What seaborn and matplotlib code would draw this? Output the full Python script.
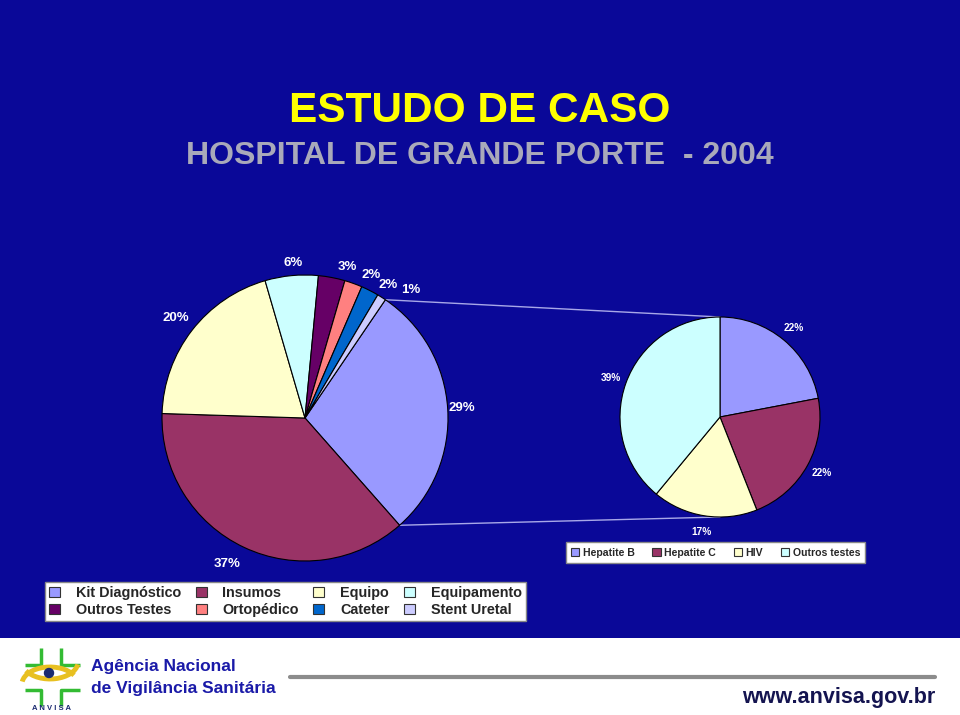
import numpy as np
import matplotlib
matplotlib.use("Agg")
import matplotlib.pyplot as plt
from matplotlib.patches import Rectangle, Arc, Circle
import seaborn as sns

# ---------------- data ----------------
main_labels = ["Kit Diagnóstico", "Insumos", "Equipo", "Equipamento",
               "Outros Testes", "Ortopédico", "Cateter", "Stent Uretal"]
main_values = [29, 37, 20, 6, 3, 2, 2, 1]
main_colors = ["#9999ff", "#993366", "#ffffcc", "#ccffff",
               "#660066", "#ff8080", "#0066cc", "#ccccff"]

sub_labels = ["Hepatite B", "Hepatite C", "HIV", "Outros testes"]
sub_values = [22, 22, 17, 39]
sub_colors = ["#9999ff", "#993366", "#ffffcc", "#ccffff"]

title = "ESTUDO DE CASO"
subtitle = "HOSPITAL DE GRANDE PORTE  - 2004"

# ---------------- style ----------------
sns.set_theme(style="white")
plt.rcParams["font.family"] = ["Liberation Sans", "DejaVu Sans"]

BG = "#0a0898"
W, H = 960, 715
fig = plt.figure(figsize=(W / 100, H / 100), dpi=100, facecolor=BG)
ax = fig.add_axes([0, 0, 1, 1])
ax.set_facecolor(BG)

def Y(y):  # pixel-from-top -> axis coords
    return H - y

# main pie
c1 = (305, Y(418)); r1 = 143
wedges1, _ = ax.pie(main_values, colors=sns.color_palette(main_colors),
                    startangle=55.8, counterclock=False, center=c1, radius=r1,
                    wedgeprops=dict(edgecolor="black", linewidth=0.8))
lab_dist = [1.10, 1.16, 1.14, 1.09, 1.10, 1.10, 1.10, 1.16]
lab_shift = [0, -3, 0, -1, -5, -5, -5, -7]
for w, v, d, s in zip(wedges1, main_values, lab_dist, lab_shift):
    a = np.deg2rad((w.theta1 + w.theta2) / 2 + s)
    ax.text(c1[0] + d * r1 * np.cos(a), c1[1] + d * r1 * np.sin(a), f"{v}%",
            ha="center", va="center", color="white", fontsize=9.5, fontweight="bold")

# secondary pie
c2 = (720, Y(417)); r2 = 100
wedges2, _ = ax.pie(sub_values, colors=sns.color_palette(sub_colors),
                    startangle=90, counterclock=False, center=c2, radius=r2,
                    wedgeprops=dict(edgecolor="black", linewidth=0.8))
for w, v in zip(wedges2, sub_values):
    a = np.deg2rad((w.theta1 + w.theta2) / 2)
    ax.text(c2[0] + 1.16 * r2 * np.cos(a), c2[1] + 1.16 * r2 * np.sin(a), f"{v}%",
            ha="center", va="center", color="white", fontsize=7.3, fontweight="bold")

# connector lines
kit = wedges1[0]
for ang, yy in [(kit.theta2, c2[1] + r2), (kit.theta1, c2[1] - r2)]:
    a = np.deg2rad(ang)
    ax.plot([c1[0] + r1 * np.cos(a), c2[0]], [c1[1] + r1 * np.sin(a), yy],
            color="#a8a8e8", lw=1.0, zorder=0.5)

ax.set_xlim(0, W); ax.set_ylim(0, H)
ax.set_aspect("equal")
ax.axis("off")

# titles
ax.text(480, Y(111), title, ha="center", va="center", color="#ffff00",
        fontsize=30.5, fontweight="bold")
ax.text(480, Y(156), subtitle, ha="center", va="center", color="#a9a9ba",
        fontsize=23, fontweight="bold")

# legends
def handles(cols):
    return [Rectangle((0, 0), 1, 1, facecolor=c, edgecolor="#333333", lw=0.8) for c in cols]

order = [0, 4, 1, 5, 2, 6, 3, 7]
leg1 = fig.legend([handles(main_colors)[i] for i in order], [main_labels[i] for i in order],
                  ncol=4, loc="center", bbox_to_anchor=(285.5 / W, 1 - 601.5 / H),
                  prop=dict(size=10.4, weight="bold"), frameon=True, fancybox=False,
                  facecolor="white", edgecolor="#888888", framealpha=1,
                  handlelength=0.75, handleheight=0.75, handletextpad=1.1,
                  columnspacing=1.0, labelspacing=0.2, borderpad=0.3)
leg2 = fig.legend(handles(sub_colors), sub_labels, ncol=4, loc="center",
                  bbox_to_anchor=(715.5 / W, 1 - 552.5 / H),
                  prop=dict(size=7.6, weight="bold"), frameon=True, fancybox=False,
                  facecolor="white", edgecolor="#888888", framealpha=1,
                  handlelength=0.8, handleheight=0.8, handletextpad=0.3,
                  columnspacing=1.7, borderpad=0.5)

# footer band
ax.add_patch(Rectangle((0, 0), W, Y(638), facecolor="white", edgecolor="none", zorder=5))
ax.plot([290, 935], [Y(677), Y(677)], color="#8c8c8c", lw=3, zorder=6)
green = "#33bb33"
for xs, ys in [([25, 41, 41], [665, 665, 648]), ([61, 61, 80], [648, 665, 665]),
               ([25, 41, 41], [690, 690, 706]), ([61, 61, 80], [706, 690, 690])]:
    ax.plot(xs, [Y(v) for v in ys], color=green, lw=2.5, zorder=6, solid_capstyle="butt")
ax.add_patch(Arc((50, Y(684)), 56, 34, theta1=20, theta2=175, color="#e8c020", lw=3.5, zorder=7))
ax.add_patch(Arc((50, Y(662)), 56, 34, theta1=200, theta2=355, color="#e8c020", lw=3.5, zorder=7))
ax.add_patch(Circle((49, Y(673)), 4.5, color="#1a2a70", zorder=8))
ax.text(51, Y(708), "A N V I S A", ha="center", va="center", fontsize=5.5,
        color="#1a2a70", fontweight="bold", zorder=8)
ax.text(91, Y(666), "Agência Nacional", ha="left", va="center", fontsize=12.5,
        fontweight="bold", color="#1a1aa8", zorder=8)
ax.text(91, Y(688), "de Vigilância Sanitária", ha="left", va="center", fontsize=12.5,
        fontweight="bold", color="#1a1aa8", zorder=8)
ax.text(935, Y(698), "www.anvisa.gov.br", ha="right", va="center", fontsize=15.5,
        fontweight="bold", color="#141450", zorder=8)

fig.savefig("out.png", dpi=100, facecolor=BG)
